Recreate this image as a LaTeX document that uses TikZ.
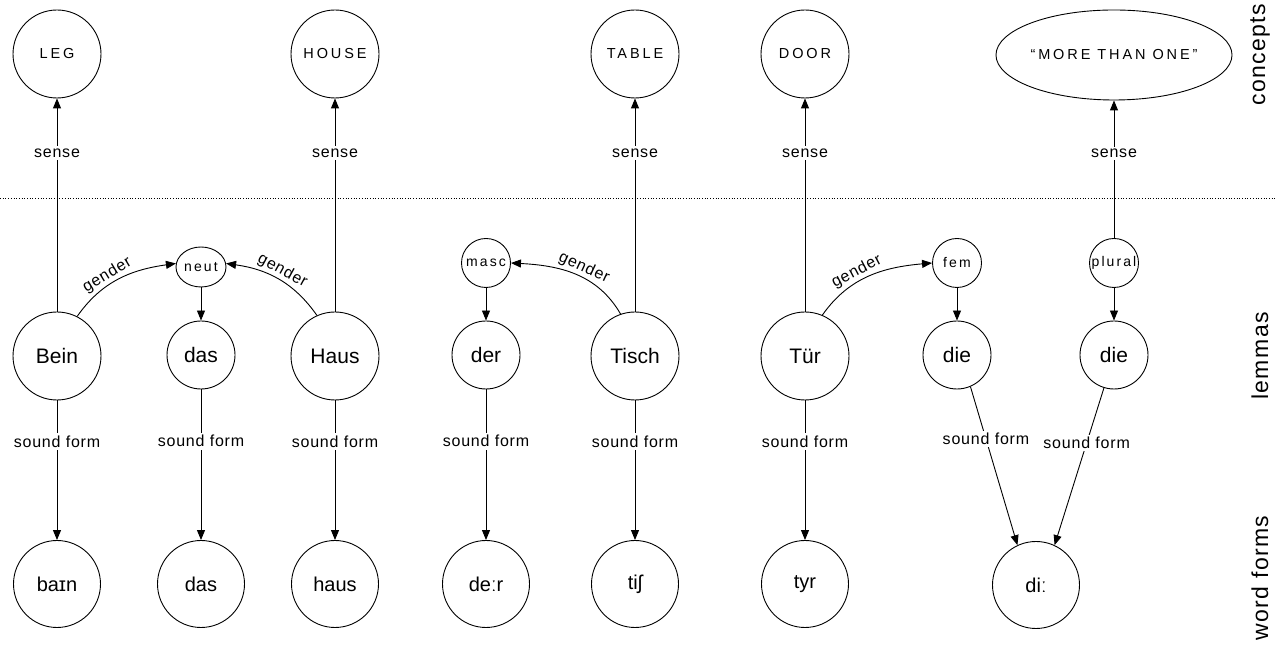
\documentclass[tikz,border=0pt]{standalone}
\usepackage{fontspec}
\setmainfont{Liberation Sans}
\newfontfamily\lblfont[LetterSpace=5]{Liberation Sans}
\newfontfamily\featfont[LetterSpace=15]{Liberation Sans}
\newfontfamily\capfont[LetterSpace=20]{Liberation Sans}
\newfontfamily\sidefont[LetterSpace=6]{Liberation Sans}
\usetikzlibrary{arrows.meta,shapes.geometric}
\begin{document}
\begin{tikzpicture}[x=1pt,y=1pt,
  every node/.style={inner sep=0pt},
  con/.style={circle,draw,line width=0.9pt,minimum size=88pt,font={\capfont\fontsize{14.5}{16}\selectfont}},
  conell/.style={ellipse,draw,line width=0.9pt,minimum width=182pt,minimum height=90pt,font={\capfont\fontsize{14.5}{16}\selectfont}},
  lem/.style={circle,draw,line width=0.9pt,minimum size=88pt,font={\fontsize{21}{24}\selectfont}},
  lems/.style={circle,draw,line width=0.9pt,minimum size=68pt,font={\fontsize{21}{24}\selectfont}},
  feat/.style={circle,draw,line width=0.9pt,minimum size=49pt,font={\featfont\fontsize{14}{16}\selectfont}},
  featell/.style={ellipse,draw,line width=0.9pt,minimum width=50pt,minimum height=40pt,font={\featfont\fontsize{14}{16}\selectfont}},
  wf/.style={circle,draw,line width=0.9pt,minimum size=87pt,font={\fontsize{20}{24}\selectfont}},
  side/.style={rotate=90,font={\sidefont\fontsize{23}{26}\selectfont}},
  link/.style={line width=0.9pt,-{Triangle[length=10pt,width=8pt]}},
  lab/.style={fill=white,inner sep=2.5pt,font={\lblfont\fontsize{16}{18}\selectfont}},
  gl/.style={inner sep=1.5pt,font={\lblfont\fontsize{16}{18}\selectfont}},
  sep/.style={dotted,line width=0.7pt}
]
\useasboundingbox (0,0) rectangle (1275,647);

% separator
\coordinate (dl) at (0,449);
\coordinate (dr) at (1275,449);
\draw[sep] (dl) -- (dr);

% concepts
\node[con] (leg) at (57,593) {LEG};
\node[con] (house) at (335,593) {HOUSE};
\node[con] (table) at (635,593) {TABLE};
\node[con] (door) at (805,593) {DOOR};
\node[conell] (more) at (1114,592) {“MORE THAN ONE”};

% features
\node[featell] (neut) at (201,380) {neut};
\node[feat] (masc) at (486,384) {masc};
\node[feat] (fem) at (957,384) {fem};
\node[feat] (plural) at (1114,384) {plural};

% lemmas
\node[lem] (bein) at (57,291) {Bein};
\node[lems] (das) at (201,292) {das};
\node[lem] (haus) at (335,291) {Haus};
\node[lems] (der) at (486,292) {der};
\node[lem] (tisch) at (635,291) {Tisch};
\node[lem] (tuer) at (805,291) {Tür};
\node[lems] (dief) at (957,292) {die};
\node[lems] (diep) at (1114,292) {die};

% word forms
\node[wf] (wbain) at (57,63) {baɪn};
\node[wf] (wdas) at (201,63) {das};
\node[wf] (whaus) at (335,63) {haus};
\node[wf] (wder) at (486,63) {deːr};
\node[wf] (wtisch) at (635,63) {tiʃ};
\node[wf] (wtyr) at (805,63) {tyr};
\node[wf] (wdi) at (1036,62) {diː};

% side labels
\node[side] (sconcepts) at (1260,592) {concepts};
\node[side] (slemmas) at (1260,291) {lemmas};
\node[side] (swords) at (1260,69) {word forms};

% sense
\draw[link] (bein) -- node[lab,pos=0.743]{sense} (leg);
\draw[link] (haus) -- node[lab,pos=0.743]{sense} (house);
\draw[link] (tisch) -- node[lab,pos=0.743]{sense} (table);
\draw[link] (tuer) -- node[lab,pos=0.743]{sense} (door);
\draw[link] (plural) -- node[lab,pos=0.615]{sense} (more);

% feature to lemma
\draw[link] (neut) -- (das);
\draw[link] (masc) -- (der);
\draw[link] (fem) -- (dief);
\draw[link] (plural) -- (diep);

% gender
\draw[link] (bein.63) to[out=55,in=188] node[gl,above,sloped,pos=0.42]{gender} (neut.172);
\draw[link] (haus.114) to[out=125,in=-8] node[gl,above,sloped,pos=0.5]{gender} (neut.8);
\draw[link] (tisch.109) to[out=120,in=-3] node[gl,above,sloped,pos=0.45]{gender} (masc.east);
\draw[link] (tuer.67) to[out=55,in=185] node[gl,above,sloped,pos=0.42]{gender} (fem.west);

% sound form
\draw[link] (bein) -- node[lab,pos=0.293]{sound form} (wbain);
\draw[link] (das) -- node[lab,pos=0.344]{sound form} (wdas);
\draw[link] (haus) -- node[lab,pos=0.293]{sound form} (whaus);
\draw[link] (der) -- node[lab,pos=0.344]{sound form} (wder);
\draw[link] (tisch) -- node[lab,pos=0.293]{sound form} (wtisch);
\draw[link] (tuer) -- node[lab,pos=0.293]{sound form} (wtyr);
\draw[link] (dief.-67) -- node[lab,pos=0.33]{sound form} (wdi.115);
\draw[link] (diep.-107) -- node[lab,pos=0.35]{sound form} (wdi.65);
\end{tikzpicture}
\end{document}
